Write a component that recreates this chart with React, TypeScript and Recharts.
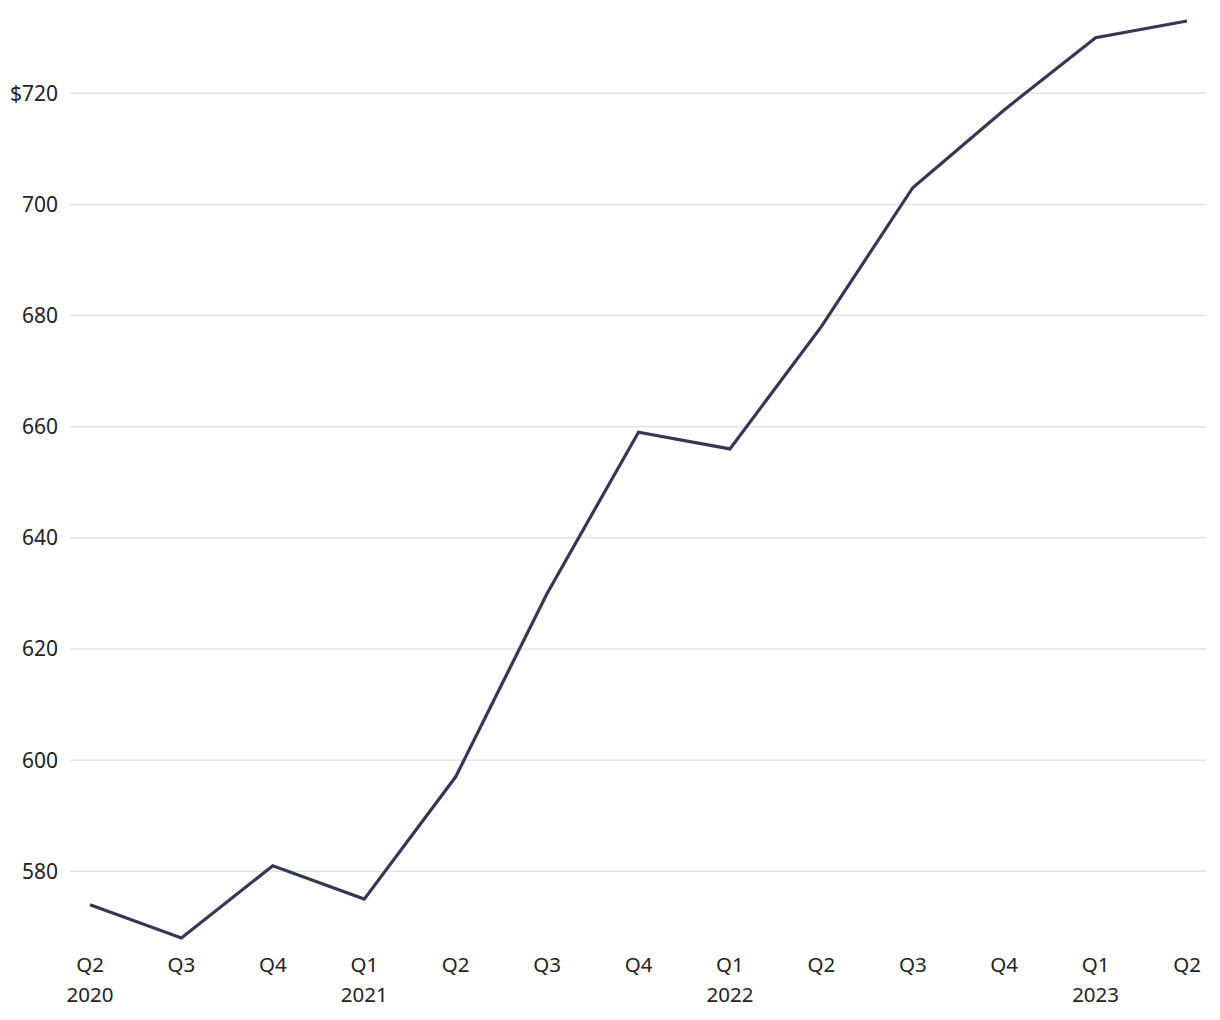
import React from 'react';
import { LineChart, Line, XAxis, YAxis, CartesianGrid } from 'recharts';

const quarters = ['Q2', 'Q3', 'Q4', 'Q1', 'Q2', 'Q3', 'Q4', 'Q1', 'Q2', 'Q3', 'Q4', 'Q1', 'Q2'];
const yearLabels = ['2020', '', '', '2021', '', '', '', '2022', '', '', '', '2023', ''];
const prices = [574, 568, 581, 575, 597, 630, 659, 656, 678, 703, 717, 730, 733];
const yTicks = [580, 600, 620, 640, 660, 680, 700, 720];

const data = quarters.map((q, i) => ({ key: i, quarter: q, year: yearLabels[i], price: prices[i] }));

const FONT = '"Noto Sans", sans-serif';

const QuarterTick = (props: any) => {
  const { x, y, payload } = props;
  const row = data[payload.value];
  return (
    <g>
      <text x={x} y={y} dy={26} textAnchor="middle" fill="#222" fontSize={20.5} fontFamily={FONT}>
        {row.quarter}
      </text>
      {row.year && (
        <text x={x} y={y} dy={56} textAnchor="middle" fill="#222" fontSize={20.5} fontFamily={FONT}>
          {row.year}
        </text>
      )}
    </g>
  );
};

const App: React.FC = () => {
  return (
    <div style={{ position: 'absolute', left: 0, top: 0, width: 1220, height: 1020, background: '#fff' }}>
      <LineChart width={1220} height={1020} data={data} margin={{ top: 21, right: 14, bottom: 0, left: 0 }}>
        <CartesianGrid vertical={false} horizontalValues={yTicks} stroke="#e3e3e3" strokeWidth={1.5} />
        <XAxis
          dataKey="key"
          type="category"
          axisLine={false}
          tickLine={false}
          height={82}
          interval={0}
          padding={{ left: 20, right: 19 }}
          tick={<QuarterTick />}
        />
        <YAxis
          domain={[568, 733]}
          ticks={yTicks}
          axisLine={false}
          tickLine={false}
          tickMargin={6}
          width={70}
          tick={{ fill: '#222', fontSize: 21, fontFamily: FONT }}
          tickFormatter={(v: number) => (v === 720 ? `$${v}` : `${v}`)}
        />
        <Line
          type="linear"
          dataKey="price"
          stroke="#343852"
          strokeWidth={3.2}
          dot={false}
          isAnimationActive={false}
        />
      </LineChart>
    </div>
  );
};

export default App;
